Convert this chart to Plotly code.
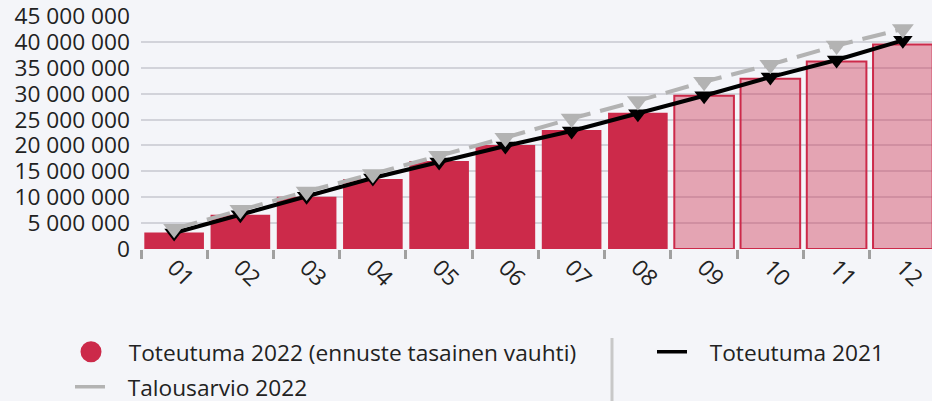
import plotly.graph_objects as go

months = ["01", "02", "03", "04", "05", "06", "07", "08", "09", "10", "11", "12"]
toteutuma_2022 = [3.2e6, 6.6e6, 10.1e6, 13.5e6, 17.0e6, 20.1e6, 23.0e6, 26.3e6, 29.6e6, 32.9e6, 36.2e6, 39.5e6]
is_forecast = [False] * 8 + [True] * 4
toteutuma_2021 = [3.1e6, 6.6e6, 10.2e6, 13.7e6, 16.8e6, 19.9e6, 22.8e6, 26.1e6, 29.6e6, 33.2e6, 36.5e6, 40.3e6]
talousarvio_2022 = [3.9e6, 7.6e6, 11.1e6, 14.5e6, 18.0e6, 21.5e6, 25.2e6, 28.6e6, 32.3e6, 35.6e6, 39.3e6, 42.5e6]
y_ticks = [0, 5e6, 10e6, 15e6, 20e6, 25e6, 30e6, 35e6, 40e6, 45e6]

RED = "#cc2a4a"
RED_LIGHT = "rgba(204,42,74,0.4)"
BG = "#f4f5f9"
GREY = "#b3b3b3"
FONT = "Open Sans"
FS = 22.7
PAD = "\u00a0\u00a0\u00a0"

fig = go.Figure()
fig.add_trace(go.Bar(
    x=months, y=toteutuma_2022,
    marker=dict(color=[RED_LIGHT if f else RED for f in is_forecast],
                line=dict(color=RED, width=[2 if f else 0 for f in is_forecast])),
    showlegend=False, hoverinfo="skip",
))
fig.add_trace(go.Scatter(
    x=months, y=toteutuma_2021, mode="lines+markers", name="Toteutuma 2021",
    line=dict(color="black", width=4),
    marker=dict(symbol="triangle-down", size=17, color="black"),
    showlegend=False,
))
fig.add_trace(go.Scatter(
    x=months, y=talousarvio_2022, mode="lines+markers", name="Talousarvio 2022",
    line=dict(color=GREY, width=4, dash="24px,10px"),
    marker=dict(symbol="triangle-down", size=19, color=GREY),
    showlegend=False,
))
# legend entries
fig.add_trace(go.Scatter(
    x=[None], y=[None], mode="markers", name=PAD + "Toteutuma 2022 (ennuste tasainen vauhti)",
    marker=dict(symbol="circle", size=16, color=RED, line=dict(color=RED, width=5)),
    legend="legend",
))
fig.add_trace(go.Scatter(
    x=[None], y=[None], mode="lines", name=PAD + "Toteutuma 2021",
    line=dict(color="black", width=3.5), legend="legend2",
))
fig.add_trace(go.Scatter(
    x=[None], y=[None], mode="lines", name=PAD + "Talousarvio 2022",
    line=dict(color=GREY, width=3.5), legend="legend3",
))

fig.add_shape(type="line", xref="paper", yref="paper",
              x0=(612 - 141) / 791, x1=(612 - 141) / 791, y0=(249 - 338) / 233, y1=(249 - 410) / 233,
              line=dict(color="#c8c8c8", width=3))

legend_common = dict(orientation="v", xanchor="left", yanchor="middle", bgcolor="rgba(0,0,0,0)",
                     font=dict(family=FONT, size=FS, color="#222"), itemwidth=30)

fig.update_layout(
    width=932, height=401,
    margin=dict(l=141, r=0, t=16, b=152, autoexpand=False),
    paper_bgcolor=BG, plot_bgcolor=BG,
    font=dict(family=FONT, size=FS, color="#222"),
    separators=", ",
    bargap=0.1,
    xaxis=dict(type="category", range=[-0.5, 11.44], tickangle=45, tickson="boundaries",
               ticks="outside", ticklen=9, tickwidth=3, tickcolor="#a0a0a0", automargin=False,
               showgrid=False, showline=False, tickfont=dict(size=FS)),
    yaxis=dict(range=[0, 45e6], tickvals=y_ticks, tickformat=",.0f", showgrid=True, automargin=False,
               gridcolor="#d2d3da", gridwidth=1.5, zeroline=False, ticks="", ticklabelstandoff=10,
               ticklabeloverflow="allow", tickfont=dict(size=FS)),
    legend=dict(x=(71 - 141) / 791, y=(249 - 352) / 233, **legend_common),
    legend2=dict(x=(652 - 141) / 791, y=(249 - 352) / 233, **legend_common),
    legend3=dict(x=(70 - 141) / 791, y=(249 - 387) / 233, **legend_common),
)

fig.write_html("out.html", config={"displayModeBar": False},
               post_script="document.body.style.margin='0';document.body.style.overflow='hidden';")
